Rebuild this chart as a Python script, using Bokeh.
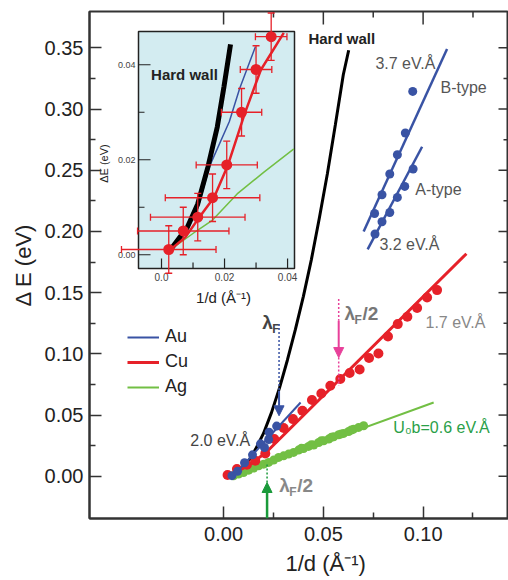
import math
from bokeh.plotting import figure
from bokeh.models import (Range1d, FixedTicker, Legend, LegendItem, Title,
                          Arrow, NormalHead, CustomJSTickFormatter)
from bokeh.core.properties import value
from bokeh.embed import file_html
from bokeh.resources import INLINE

FONT = "Liberation Sans"

# ---------------- data ----------------
# Cu (red) main data
cu_x = [0.0020, 0.0067, 0.0117, 0.0159, 0.0209, 0.0254, 0.0301, 0.0348, 0.0395, 0.0443,
        0.0490, 0.0535, 0.0585, 0.0632, 0.0682, 0.0729, 0.0776, 0.0824, 0.0873, 0.0921,
        0.0970, 0.1020, 0.1070]
cu_y = [0.0010, 0.0059, 0.0094, 0.0127, 0.0186, 0.0304, 0.0394, 0.0467, 0.0535, 0.0623,
        0.0676, 0.0739, 0.0794, 0.0843, 0.0873, 0.0966, 0.1003, 0.1142, 0.1243, 0.1303,
        0.1374, 0.1461, 0.1521]
cu_fit_x = [0.0030, 0.0120, 0.0210, 0.1217]
cu_fit_y = [0.0005, 0.0085, 0.0190, 0.1818]

# Au (blue) main data
au_x = [0.0042, 0.0070, 0.0105, 0.0145, 0.0185, 0.0205, 0.0226, 0.0228, 0.0266]
au_y = [0.0005, 0.0040, 0.0110, 0.0175, 0.0265, 0.0235, 0.0300, 0.0360, 0.0410]
au_fit_x = [0.0050, 0.0386]
au_fit_y = [0.0005, 0.0603]

# Ag (green) main data
ag_x = [0.0050, 0.0075, 0.0100, 0.0126, 0.0151, 0.0176, 0.0201, 0.0226, 0.0251, 0.0276,
        0.0301, 0.0326, 0.0351, 0.0376, 0.0401, 0.0426, 0.0452, 0.0477, 0.0502, 0.0527,
        0.0552, 0.0577, 0.0602, 0.0627, 0.0652, 0.0677, 0.0702,
        0.0390, 0.0440, 0.0490, 0.0540, 0.0590, 0.0640]
ag_y = [0.0004, 0.0018, 0.0031, 0.0050, 0.0067, 0.0086, 0.0099, 0.0113, 0.0132, 0.0154,
        0.0167, 0.0181, 0.0195, 0.0214, 0.0227, 0.0244, 0.0255, 0.0276, 0.0290, 0.0304,
        0.0323, 0.0339, 0.0350, 0.0366, 0.0385, 0.0399, 0.0413,
        0.0228, 0.0258, 0.0290, 0.0318, 0.0346, 0.0378]
ag_fit_x = [0.0042, 0.1053]
ag_fit_y = [0.0004, 0.0603]

# Hard wall curve (main)
hw_x = [0.003, 0.008, 0.012, 0.016, 0.020, 0.024, 0.028, 0.032, 0.036, 0.040,
        0.044, 0.048, 0.052, 0.056, 0.060, 0.0627]
hw_y = [0.0005, 0.005, 0.011, 0.022, 0.035, 0.052, 0.072, 0.095, 0.120, 0.147,
        0.177, 0.211, 0.247, 0.287, 0.328, 0.348]

# B-type and A-type (blue)
bt_x = [0.0948, 0.0911, 0.0871, 0.0833, 0.0794, 0.0757]
bt_y = [0.3144, 0.2804, 0.2627, 0.2469, 0.2300, 0.2147]
bt_fit_x = [0.0702, 0.1120]
bt_fit_y = [0.2000, 0.3490]
at_x = [0.0950, 0.0908, 0.0871, 0.0833, 0.0794, 0.0759]
at_y = [0.2510, 0.2368, 0.2278, 0.2155, 0.2079, 0.1979]
at_fit_x = [0.0722, 0.0995]
at_fit_y = [0.1853, 0.2692]

# Inset data (Cu with error bars)
in_x = [0.0023, 0.0069, 0.0115, 0.0162, 0.0207, 0.0254, 0.0300, 0.0348]
in_y = [0.0011, 0.0050, 0.0079, 0.0120, 0.0189, 0.0300, 0.0390, 0.0459]
in_xerr = [0.0150, 0.0145, 0.0150, 0.0150, 0.0097, 0.0064, 0.0050, 0.0050]
in_yerr = [0.0050, 0.0050, 0.0050, 0.0050, 0.0050, 0.0050, 0.0050, 0.0050]
in_cu_x = [0.0029, 0.0076, 0.0120, 0.0167, 0.0211, 0.0264, 0.0315, 0.0388]
in_cu_y = [0.0011, 0.0037, 0.0079, 0.0121, 0.0189, 0.0297, 0.0389, 0.0467]
in_au_x = [0.0029, 0.0080, 0.0115, 0.0153, 0.0215, 0.0248, 0.0298]
in_au_y = [0.0012, 0.0050, 0.0097, 0.0187, 0.0280, 0.0350, 0.0438]
in_ag_x = [0.0029, 0.0113, 0.0162, 0.0240, 0.0325, 0.0420]
in_ag_y = [0.0011, 0.0051, 0.0073, 0.0128, 0.0174, 0.0223]
in_hw_x = [0.0029, 0.0082, 0.0115, 0.0147, 0.0177, 0.0198, 0.0219]
in_hw_y = [0.0011, 0.0058, 0.0107, 0.0184, 0.0269, 0.0353, 0.0443]

# ticks
x_major = [0.0, 0.05, 0.10]
x_minor = [0.025, 0.075, 0.125]
y_major = [0.0, 0.05, 0.10, 0.15, 0.20, 0.25, 0.30, 0.35]
y_minor = [0.025, 0.075, 0.125, 0.175, 0.225, 0.275, 0.325]
in_x_major = [0.0, 0.02, 0.04]
in_x_labels = ["0.0", "0.02", "0.04"]
in_x_minor = [0.01, 0.03]
in_y_major = [0.0, 0.02, 0.04]
in_y_labels = ["0.00", "0.02", "0.04"]
in_y_minor = [0.01, 0.03]

# ---------------- styling / layout ----------------
RED = "#e62129"
BLUE = "#3953a4"
GREEN = "#72bf44"
GREEN_TXT = "#2aa048"
ARROW_GREEN = "#1a9a3a"
PINK = "#e8409a"
DARK = "#333333"

X0, X1 = -0.0672, 0.1428
Y0, Y1 = -0.0345, 0.3797
FL, FR, FT, FB = 89.0, 508.0, 11.0, 518.0     # frame pixels
IL, IR, IT, IB = 138.0, 294.0, 31.0, 268.0    # inset box pixels
ix0, ix1, iy0, iy1 = -0.0073, 0.0422, -0.0029, 0.047
sx = (ix1 - ix0) / (IR - IL)
sy = (iy1 - iy0) / (IB - IT)

p = figure(width=508, height=580, x_range=Range1d(X0, X1), y_range=Range1d(Y0, Y1),
           output_backend="svg", toolbar_location=None,
           min_border_left=89, min_border_right=0, min_border_top=11, min_border_bottom=62)
p.extra_x_ranges = {"ix": Range1d(ix0 - (IL - FL) * sx, ix1 + (FR - IR) * sx)}
p.extra_y_ranges = {"iy": Range1d(iy0 - (FB - IB) * sy, iy1 + (IT - FT) * sy)}
p.grid.visible = False
p.outline_line_color = DARK
p.outline_line_width = 2
p.background_fill_color = "white"
p.border_fill_color = "white"

def style_axis(ax, ticks, minor):
    ax.ticker = FixedTicker(ticks=ticks, minor_ticks=minor)
    ax.axis_line_color = DARK
    ax.axis_line_width = 2
    ax.major_tick_line_color = DARK
    ax.minor_tick_line_color = DARK
    ax.major_tick_line_width = 1.5
    ax.minor_tick_line_width = 1.5
    ax.major_tick_out = 0
    ax.minor_tick_out = 0
    ax.major_tick_in = 12
    ax.minor_tick_in = 6
    ax.major_label_text_font = FONT
    ax.major_label_text_font_size = "20px"
    ax.major_label_text_color = "#222222"
    ax.axis_label_text_font = FONT
    ax.axis_label_text_font_size = "22px"
    ax.axis_label_text_font_style = "normal"
    ax.axis_label_text_color = "#222222"
    ax.formatter = CustomJSTickFormatter(code="return tick.toFixed(2);")

xa = p.xaxis[0]
style_axis(xa, x_major, x_minor)
xa.major_label_standoff = 8
ya = p.yaxis[0]
style_axis(ya, y_major, y_minor)
ya.major_label_standoff = 6
ya.axis_label = "Δ E (eV)"
ya.axis_label_standoff = 6

# x-axis title, shifted right as in the reference
p.add_layout(Title(text="1/d (Å⁻¹)", align="left", offset=196, standoff=10,
                   vertical_align="bottom",
                   text_font=FONT, text_font_size="22px", text_font_style="normal",
                   text_color="#222222"), "below")

# mirror ticks on top and right (inward)
p.ray(x=x_major, y=[Y1] * len(x_major), length=13, angle=-math.pi / 2,
      length_units="screen", line_color=DARK, line_width=1.5)
p.ray(x=x_minor, y=[Y1] * len(x_minor), length=6, angle=-math.pi / 2,
      length_units="screen", line_color=DARK, line_width=1.5)
p.ray(x=[X1] * len(y_major), y=y_major, length=10, angle=math.pi,
      length_units="screen", line_color=DARK, line_width=1.5)
p.ray(x=[X1] * len(y_minor), y=y_minor, length=5, angle=math.pi,
      length_units="screen", line_color=DARK, line_width=1.5)

# ---------------- main plot ----------------
p.line(hw_x, hw_y, line_color="black", line_width=3)
r_ag = p.line(ag_fit_x, ag_fit_y, line_color=GREEN, line_width=2)
p.scatter(ag_x, ag_y, size=9, fill_color=GREEN, line_color=None)
r_cu = p.line(cu_fit_x, cu_fit_y, line_color=RED, line_width=3)
p.scatter(cu_x, cu_y, size=10, fill_color=RED, line_color=None)
p.scatter(au_x, au_y, size=9, fill_color=BLUE, line_color=None)
r_au = p.line(au_fit_x, au_fit_y, line_color=BLUE, line_width=2)

p.line(bt_fit_x, bt_fit_y, line_color=BLUE, line_width=2.5)
p.line(at_fit_x, at_fit_y, line_color=BLUE, line_width=2.5)
p.scatter(bt_x, bt_y, size=9, fill_color=BLUE, line_color=None)
p.scatter(at_x, at_y, size=9, fill_color=BLUE, line_color=None)

def txt(x, y, s, color="#444444", size="16px", style="normal", align="left", **kw):
    p.text(x=[x], y=[y], text=[s], text_font=value(FONT), text_font_size=size,
           text_color=color, text_font_style=style, text_align=align,
           text_baseline="middle", **kw)

txt(0.0425, 0.3574, "Hard wall", color="#222222", size="15px", style="bold")
txt(0.0761, 0.3376, "3.7 eV.Å", color="#555555")
txt(0.1087, 0.3176, "B-type", color="#555555")
txt(0.0961, 0.2341, "A-type", color="#555555")
txt(0.0781, 0.1891, "3.2 eV.Å", color="#555555")
txt(0.1012, 0.1257, "1.7 eV.Å", color="#888888")
txt(-0.0167, 0.0290, "2.0 eV.Å", color="#444444")
txt(0.0851, 0.0399, "U₀b=0.6 eV.Å", color=GREEN_TXT)

def lam(x, y, color, half):
    txt(x, y, "λ", color=color, size="19px", style="bold")
    txt(x, y, "F", color=color, size="12px", style="bold", x_offset=10, y_offset=6)
    if half:
        txt(x, y, "/2", color=color, size="19px", style="bold", x_offset=18)

lam(0.0194, 0.1254, "#444444", False)
lam(0.0606, 0.1328, "#777777", True)
lam(0.0279, -0.0078, "#888888", True)

# arrows
p.segment(x0=[0.0278], y0=[0.1243], x1=[0.0278], y1=[0.0699], line_color=BLUE,
          line_width=1.5, line_dash="2 2")
p.add_layout(Arrow(end=NormalHead(size=10, fill_color=BLUE, line_color=BLUE),
                   x_start=0.0278, y_start=0.0699, x_end=0.0278, y_end=0.0494,
                   line_color=BLUE, line_width=2))
p.segment(x0=[0.0577, 0.0577], y0=[0.1448, 0.0970], x1=[0.0577, 0.0577], y1=[0.1270, 0.0739],
          line_color=PINK, line_width=1.5, line_dash="2 2")
p.add_layout(Arrow(end=NormalHead(size=10, fill_color=PINK, line_color=PINK),
                   x_start=0.0577, y_start=0.1270, x_end=0.0577, y_end=0.0970,
                   line_color=PINK, line_width=2))
p.segment(x0=[0.0218], y0=[-0.0051], x1=[0.0218], y1=[0.0100], line_color=ARROW_GREEN,
          line_width=1.5, line_dash="2 2")
p.add_layout(Arrow(end=NormalHead(size=10, fill_color=ARROW_GREEN, line_color=ARROW_GREEN),
                   x_start=0.0218, y_start=Y0, x_end=0.0218, y_end=-0.0051,
                   line_color=ARROW_GREEN, line_width=2.5))

# legend
legend = Legend(items=[LegendItem(label="Au", renderers=[r_au]),
                       LegendItem(label="Cu", renderers=[r_cu]),
                       LegendItem(label="Ag", renderers=[r_ag])],
                location=(38, 121), padding=0, margin=0, spacing=4,
                glyph_width=32, glyph_height=20, label_height=20, label_standoff=6,
                label_text_font=FONT, label_text_font_size="18px",
                label_text_color="#222222", border_line_color=None,
                background_fill_alpha=0)
p.add_layout(legend)

# ---------------- inset ----------------
I = dict(x_range_name="ix", y_range_name="iy")
p.quad(left=[ix0], right=[ix1], bottom=[iy0], top=[iy1], fill_color="#d3ecf1",
       line_color="#222222", line_width=1.5, **I)
# inset ticks
p.ray(x=[ix0] * len(in_y_major), y=in_y_major, length=12, angle=0, length_units="screen",
      line_color="#222222", line_width=1.2, **I)
p.ray(x=[ix0] * len(in_y_minor), y=in_y_minor, length=6, angle=0, length_units="screen",
      line_color="#222222", line_width=1.2, **I)
p.ray(x=in_x_major, y=[iy0] * len(in_x_major), length=10, angle=math.pi / 2,
      length_units="screen", line_color="#222222", line_width=1.2, **I)
p.ray(x=in_x_minor, y=[iy0] * len(in_x_minor), length=6, angle=math.pi / 2,
      length_units="screen", line_color="#222222", line_width=1.2, **I)
p.text(x=[ix0] * 3, y=in_y_major, text=in_y_labels, text_font=value(FONT),
       text_font_size="9px", text_color="#444444", text_align="right",
       text_baseline="middle", x_offset=-3, **I)
p.text(x=in_x_major, y=[iy0] * 3, text=in_x_labels, text_font=value(FONT),
       text_font_size="10px", text_color="#444444", text_align="center",
       text_baseline="top", y_offset=4, **I)
p.text(x=[0.0197], y=[iy0], text=["1/d (Å⁻¹)"], text_font=value(FONT),
       text_font_size="15px", text_color="#222222", text_align="center",
       text_baseline="middle", y_offset=29, **I)
p.text(x=[ix0], y=[0.0192], text=["ΔE (eV)"], text_font=value(FONT),
       text_font_size="11px", text_color="#222222", text_align="center",
       text_baseline="middle", x_offset=-35, angle=math.pi / 2, **I)

p.line(in_ag_x, in_ag_y, line_color=GREEN, line_width=1.5, **I)
p.line(in_au_x, in_au_y, line_color=BLUE, line_width=1.5, **I)
p.line(in_hw_x, in_hw_y, line_color="black", line_width=5, **I)
p.line(in_cu_x, in_cu_y, line_color=RED, line_width=2.5, **I)

xl = [a - e for a, e in zip(in_x, in_xerr)]
xr = [a + e for a, e in zip(in_x, in_xerr)]
yb = [a - e for a, e in zip(in_y, in_yerr)]
yt = [a + e for a, e in zip(in_y, in_yerr)]
p.segment(x0=xl, y0=in_y, x1=xr, y1=in_y, line_color=RED, line_width=1.3, **I)
p.segment(x0=in_x, y0=yb, x1=in_x, y1=yt, line_color=RED, line_width=1.3, **I)
p.scatter(xl + xr, in_y + in_y, marker="dash", angle=math.pi / 2, size=7,
          line_color=RED, line_width=1.3, **I)
p.scatter(in_x + in_x, yb + yt, marker="dash", size=7, line_color=RED, line_width=1.3, **I)
p.scatter(in_x, in_y, size=11, fill_color=RED, line_color=None, **I)
txt_kw = dict(text_font=value(FONT), text_font_size="15px", text_color="#222222",
              text_font_style="bold", text_align="left", text_baseline="middle")
p.text(x=[-0.0033], y=[0.038], text=["Hard wall"], **txt_kw, **I)

open("out.html", "w").write(file_html(p, INLINE))
